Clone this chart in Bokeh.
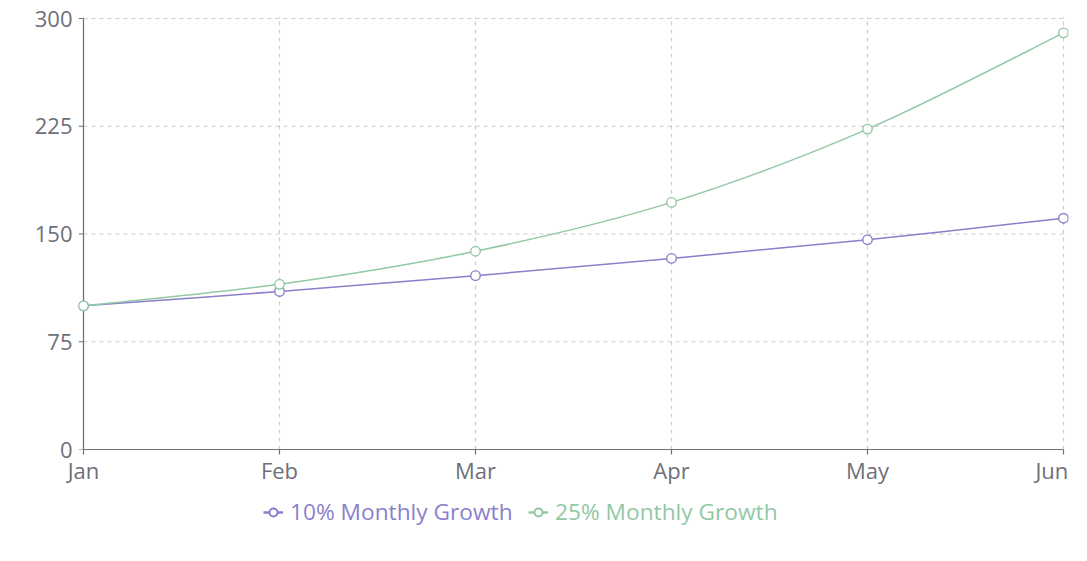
from bokeh.plotting import figure
from bokeh.layouts import column
from bokeh.models import Range1d, FixedTicker, Legend, LegendItem
from bokeh.embed import file_html
from bokeh.resources import INLINE

months = ["Jan", "Feb", "Mar", "Apr", "May", "Jun"]
growth10 = [100, 110, 121, 133, 146, 161]
growth25 = [100, 115, 138, 172, 223, 290]
y_ticks = [0, 75, 150, 225, 300]
series_names = ["10% Monthly Growth", "25% Monthly Growth"]

PURPLE = "#8a7fca"
GREEN = "#92c8a4"
AXIS = "#6e7079"
GRID = "#cccccc"
FONT = "Open Sans"

xs = list(range(len(months)))
n = len(months)
# small padding so end markers / top tick are not clipped
pad = (n - 1) * 5 / 980
ypad = y_ticks[-1] * 2 / 431

p = figure(width=1085, height=490, output_backend="svg", toolbar_location=None,
           x_range=Range1d(-pad, n - 1 + pad), y_range=Range1d(0, y_ticks[-1] + ypad),
           min_border_left=78, min_border_right=17, min_border_top=16,
           min_border_bottom=41)
p.outline_line_color = None
p.background_fill_color = "white"
p.border_fill_color = "white"

# horizontal dashed grid lines, only between first and last category
p.ygrid.visible = False
p.segment(x0=[xs[0]] * len(y_ticks), x1=[xs[-1]] * len(y_ticks),
          y0=y_ticks, y1=y_ticks, line_color=GRID, line_dash="4 4", line_width=1.2)

p.xgrid.ticker = FixedTicker(ticks=xs)
p.xgrid.grid_line_color = GRID
p.xgrid.grid_line_dash = "4 4"
p.xgrid.grid_line_width = 1.2

# y axis line and outward ticks at the first category
p.segment(x0=[xs[0]], x1=[xs[0]], y0=[y_ticks[0]], y1=[y_ticks[-1]],
          line_color=AXIS, line_width=1.2)
p.segment(x0=[xs[0] - pad] * len(y_ticks), x1=[xs[0]] * len(y_ticks),
          y0=y_ticks, y1=y_ticks, line_color=AXIS, line_width=1.2)


def bezier_parts(x, y, s=1.0 / 6):
    m = len(x)
    out = dict(x0=[], y0=[], x1=[], y1=[], cx0=[], cy0=[], cx1=[], cy1=[])
    for i in range(m - 1):
        ip = max(i - 1, 0)
        inn = min(i + 2, m - 1)
        out["x0"].append(x[i]); out["y0"].append(y[i])
        out["x1"].append(x[i + 1]); out["y1"].append(y[i + 1])
        out["cx0"].append(x[i] + (x[i + 1] - x[ip]) * s)
        out["cy0"].append(y[i] + (y[i + 1] - y[ip]) * s)
        out["cx1"].append(x[i + 1] - (x[inn] - x[i]) * s)
        out["cy1"].append(y[i + 1] - (y[inn] - y[i]) * s)
    return out


for vals, col in [(growth10, PURPLE), (growth25, GREEN)]:
    b = bezier_parts(xs, vals)
    p.bezier(**b, line_color=col, line_width=1.5)
    p.scatter(xs, vals, size=9.5, fill_color="white", line_color=col, line_width=1.4)

for ax in (p.xaxis[0], p.yaxis[0]):
    ax.axis_line_color = AXIS
    ax.axis_line_width = 1.2
    ax.major_tick_line_color = AXIS
    ax.major_tick_line_width = 1.2
    ax.major_tick_out = 5
    ax.major_tick_in = 0
    ax.minor_tick_line_color = None
    ax.major_label_text_color = AXIS
    ax.major_label_text_font = FONT
    ax.major_label_text_font_size = "22px"

p.xaxis.ticker = FixedTicker(ticks=xs)
p.xaxis.bounds = (xs[0], xs[-1])
labels = {i: m for i, m in enumerate(months)}
labels[n - 1] = months[-1] + "\u00a0\u00a0\u00a0"  # keep last label inside
p.xaxis.major_label_overrides = labels
p.xaxis.major_label_standoff = 0

p.yaxis.ticker = FixedTicker(ticks=y_ticks)
p.yaxis.axis_line_color = None
p.yaxis.major_tick_line_color = None
p.yaxis.major_tick_out = 0
p.yaxis.major_label_standoff = 6

# legend strip below the chart
lf = figure(width=1085, height=62, output_backend="svg", toolbar_location=None,
            x_range=Range1d(0, 1), y_range=Range1d(0, 1),
            min_border=0, x_axis_type=None, y_axis_type=None)
lf.outline_line_color = None
lf.xgrid.visible = False
lf.ygrid.visible = False

locs = [(185, 25), (450, 25)]
for nm, col, loc in zip(series_names, [PURPLE, GREEN], locs):
    lr = lf.line([5, 6], [5, 5], line_color=col, line_width=2.5)
    sr = lf.scatter([5], [5], size=7, fill_color="white", line_color=col, line_width=2)
    lg = Legend(items=[LegendItem(label=nm, renderers=[lr, sr])], location=loc,
                orientation="horizontal", background_fill_alpha=0,
                border_line_color=None, label_text_color=col,
                label_text_font=FONT, label_text_font_size="22.7px",
                glyph_width=20, glyph_height=20, label_standoff=7,
                padding=0, margin=0, spacing=0)
    lf.add_layout(lg, "center")

layout = column(p, lf, spacing=0)
open("out.html", "w").write(file_html(layout, INLINE))
